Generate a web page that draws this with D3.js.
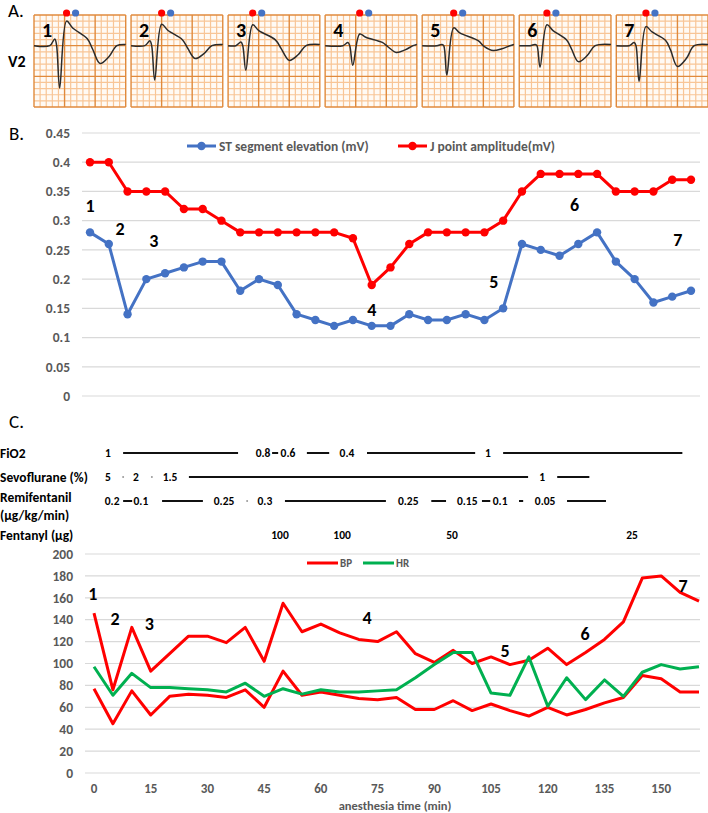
<!DOCTYPE html>
<html>
<head>
<meta charset="utf-8">
<script src="https://cdn.jsdelivr.net/npm/d3@7"></script>
<style>
  body { margin: 0; background: #fff; }
  svg { display: block; font-family: Carlito, Lato, "Noto Sans", sans-serif; }
</style>
</head>
<body>
<div id="chart"></div>
<script>
const stripLabels = ['1', '2', '3', '4', '5', '6', '7'];
const stripJTime = [213, 200, 161, 226, 206, 181, 194];
const stripR = [0.11, 0.08, 0.06, 0.05, 0.02, 0.02, 0.05];
const stripS = [-0.69, -0.56, -0.40, -0.32, -0.48, -0.35, -0.58];
const stripJ = [0.40, 0.35, 0.34, 0.19, 0.29, 0.34, 0.31];
const stripT = [-0.29, -0.21, -0.24, -0.11, -0.08, -0.26, -0.34];
const stripTTime = [219, 219, 239, 239, 258, 206, 206];

// panel B
const stValues = [0.28, 0.26, 0.14, 0.20, 0.21, 0.22, 0.23, 0.23, 0.18, 0.20, 0.19, 0.14, 0.13, 0.12, 0.13, 0.12, 0.12,
  0.14, 0.13, 0.13, 0.14, 0.13, 0.15, 0.26, 0.25, 0.24, 0.26, 0.28, 0.23, 0.20, 0.16, 0.17, 0.18];
const jValues = [0.40, 0.40, 0.35, 0.35, 0.35, 0.32, 0.32, 0.30, 0.28, 0.28, 0.28, 0.28, 0.28, 0.28, 0.27, 0.19, 0.22,
  0.26, 0.28, 0.28, 0.28, 0.28, 0.30, 0.35, 0.38, 0.38, 0.38, 0.38, 0.35, 0.35, 0.35, 0.37, 0.37];
const bTicks = [0, 0.05, 0.1, 0.15, 0.2, 0.25, 0.3, 0.35, 0.4, 0.45];
const bMarks = [['1', 0, 0.325], ['2', 1.6, 0.286], ['3', 3.4, 0.265], ['4', 15, 0.147],
  ['5', 21.5, 0.195], ['6', 25.8, 0.327], ['7', 31.3, 0.267]];

// panel C
const times = d3.range(0, 161, 5);
const bpHigh = [146, 76, 133, 93, 109, 125, 125, 119, 133, 102, 155, 129, 136, 128, 122, 120, 129,
  109, 101, 112, 100, 106, 99, 103, 114, 99, 110, 122, 138, 178, 180, 165, 157];
const bpLow = [77, 45, 75, 53, 70, 72, 71, 69, 76, 60, 93, 71, 74, 71, 68, 67, 69,
  58, 58, 66, 57, 63, 57, 52, 60, 53, 58, 64, 69, 89, 86, 74, 74];
const hrValues = [97, 71, 91, 78, 78, 77, 76, 74, 82, 70, 77, 72, 76, 74, 74, 75, 76,
  87, 99, 110, 110, 73, 71, 106, 61, 87, 67, 85, 70, 92, 99, 95, 97];
const cTicks = [0, 20, 40, 60, 80, 100, 120, 140, 160, 180, 200];
const timeTicks = [0, 15, 30, 45, 60, 75, 90, 105, 120, 135, 150];
const cMarks = [['1', -0.3, 164], ['2', 5.6, 141], ['3', 14.6, 136], ['4', 72.2, 142],
  ['5', 108.7, 112], ['6', 129.9, 127], ['7', 155.8, 171]];

// drug rows, in minutes of anesthesia
const rowNames = ['FiO2', 'Sevoflurane (%)', 'Remifentanil', 'Fentanyl (µg)'];
const fio2Text = [['1', 3.7], ['0.8', 44.7], ['0.6', 51.3], ['0.4', 66.9], ['1', 104.2]];
const fio2Lines = [[7.7, 38.1], [47.1, 48.7], [56.3, 62.2], [72.2, 100.8], [108.2, 155.6]];
const sevoText = [['5', 3.7], ['2', 11.1], ['1.5', 20.1], ['1', 118.5]];
const sevoLines = [[25.1, 114.8], [122.5, 131]];
const sevoDots = [7.7, 15.3];
const remiText = [['0.2', 4.8], ['0.1', 12.4], ['0.25', 34.4], ['0.3', 45.2], ['0.25', 83.1],
  ['0.15', 98.7], ['0.1', 107.4], ['0.05', 119.3]];
const remiLines = [[7.7, 10.1], [18, 28.8], [50.5, 77.2], [89.2, 93.1], [102.6, 104.8], [112.4, 113.5], [125.1, 135.4]];
const remiDots = [40.5];
const fentText = [['100', 49.2], ['100', 65.6], ['50', 94.7], ['25', 142.3]];

const grey = '#595959';
const gridColor = '#d9d9d9';
const blue = '#4472c4';
const red = '#ff0000';
const green = '#00b050';

const svg = d3.select('#chart').append('svg')
  .attr('width', 708)
  .attr('height', 813);

const panelLabel = (text, x, y) => svg.append('text')
  .attr('x', x).attr('y', y)
  .attr('font-size', 19)
  .attr('fill', '#000')
  .text(text);

// ---------- A ----------
panelLabel('A.', 8, 17);
svg.append('text')
  .attr('x', 8).attr('y', 67)
  .attr('font-size', 16).attr('font-weight', 'bold')
  .text('V2');

const stripX = d3.scaleBand()
  .domain(stripLabels)
  .range([34, 708])
  .paddingInner(0.055);
const stripTop = 15;
const stripH = 92;

const ecgPoints = (i) => {
  const J = stripJTime[i];
  const tt = stripTTime[i];
  const j = stripJ[i];
  const t = stripT[i];
  return [
    [0, 0], [J - 110, 0], [J - 77, stripR[i]], [J - 65, 0], [J - 45, stripS[i]], [J, j],
    [J + 40, j * 0.72], [J + 0.62 * tt, j * 0.28], [J + 0.78 * tt, t * 0.2], [J + tt, t],
    [J + tt + 58, t * 0.62], [J + tt + 110, 0], [600, 0.02]
  ];
};

stripLabels.forEach((label, i) => {
  const left = stripX(label);
  const w = stripX.bandwidth();
  const x = d3.scaleLinear().domain([0, 600]).range([left, left + w]);
  const y = d3.scaleLinear().domain([-1.0, 0.5]).range([stripTop + stripH, stripTop]);
  const g = svg.append('g').attr('class', 'strip');

  g.append('rect')
    .attr('x', left).attr('y', stripTop)
    .attr('width', w).attr('height', stripH)
    .attr('fill', '#fffaf4');

  const steps = d3.range(0, 16);
  g.selectAll('.vminor').data(steps.filter(k => k % 5)).join('line')
    .attr('x1', k => x(k * 40)).attr('x2', k => x(k * 40))
    .attr('y1', stripTop).attr('y2', stripTop + stripH)
    .attr('stroke', '#f8c596').attr('stroke-width', 1.2);
  g.selectAll('.hminor').data(steps.filter(k => k % 5)).join('line')
    .attr('y1', k => y(-1 + k * 0.1)).attr('y2', k => y(-1 + k * 0.1))
    .attr('x1', left).attr('x2', left + w)
    .attr('stroke', '#f8c596').attr('stroke-width', 1.2);
  g.selectAll('.vmajor').data(steps.filter(k => k % 5 === 0)).join('line')
    .attr('x1', k => x(k * 40)).attr('x2', k => x(k * 40))
    .attr('y1', stripTop).attr('y2', stripTop + stripH)
    .attr('stroke', '#e08a3c').attr('stroke-width', 1.4);
  g.selectAll('.hmajor').data(steps.filter(k => k % 5 === 0)).join('line')
    .attr('y1', k => y(-1 + k * 0.1)).attr('y2', k => y(-1 + k * 0.1))
    .attr('x1', left).attr('x2', left + w)
    .attr('stroke', '#e08a3c').attr('stroke-width', 1.4);

  g.append('path')
    .datum(ecgPoints(i))
    .attr('fill', 'none')
    .attr('stroke', '#2b2b2b')
    .attr('stroke-width', 1.5)
    .attr('stroke-linejoin', 'round')
    .attr('d', d3.line().x(d => x(d[0])).y(d => y(d[1])).curve(d3.curveCatmullRom.alpha(0.5)));

  g.append('circle')
    .attr('cx', x(stripJTime[i])).attr('cy', 13).attr('r', 3.6).attr('fill', red);
  g.append('circle')
    .attr('cx', x(stripJTime[i]) + 9).attr('cy', 13).attr('r', 3.6).attr('fill', blue);

  g.append('text')
    .attr('x', left + 8).attr('y', stripTop + 22)
    .attr('font-size', 20).attr('font-weight', 'bold')
    .text(label);
});

// ---------- B ----------
panelLabel('B.', 9, 140);
const bx = d3.scaleLinear().domain([0, stValues.length - 1]).range([90, 691]);
const by = d3.scaleLinear().domain([0, 0.45]).range([396, 133]);

svg.append('g').selectAll('line').data(bTicks).join('line')
  .attr('x1', 82).attr('x2', 700)
  .attr('y1', d => by(d)).attr('y2', d => by(d))
  .attr('stroke', gridColor).attr('stroke-width', 1.2);
svg.append('g').selectAll('text').data(bTicks).join('text')
  .attr('x', 70).attr('y', d => by(d)).attr('dy', '0.35em')
  .attr('text-anchor', 'end')
  .attr('font-size', 13.5).attr('font-weight', 'bold').attr('fill', grey)
  .text(d => d);

const bLine = d3.line().x((d, i) => bx(i)).y(d => by(d));
[[stValues, blue], [jValues, red]].forEach(([values, color]) => {
  svg.append('path').datum(values)
    .attr('fill', 'none').attr('stroke', color).attr('stroke-width', 3)
    .attr('stroke-linejoin', 'round')
    .attr('d', bLine);
  svg.append('g').selectAll('circle').data(values).join('circle')
    .attr('cx', (d, i) => bx(i)).attr('cy', d => by(d))
    .attr('r', 4.2).attr('fill', color);
});

const bLegend = [['ST segment elevation (mV)', blue, 187], ['J point amplitude(mV)', red, 398]];
bLegend.forEach(([name, color, x0]) => {
  svg.append('line')
    .attr('x1', x0).attr('x2', x0 + 29).attr('y1', 146).attr('y2', 146)
    .attr('stroke', color).attr('stroke-width', 3);
  svg.append('circle').attr('cx', x0 + 14.5).attr('cy', 146).attr('r', 4.2).attr('fill', color);
  svg.append('text')
    .attr('x', x0 + 32).attr('y', 146).attr('dy', '0.35em')
    .attr('font-size', 13.5).attr('font-weight', 'bold').attr('fill', grey)
    .text(name);
});

svg.append('g').selectAll('text').data(bMarks).join('text')
  .attr('x', d => bx(d[1])).attr('y', d => by(d[2])).attr('dy', '0.35em')
  .attr('text-anchor', 'middle')
  .attr('font-size', 18).attr('font-weight', 'bold')
  .text(d => d[0]);

// ---------- C ----------
panelLabel('C.', 9, 428);
const cx = d3.scaleLinear().domain([0, 160]).range([94, 699]);
const cy = d3.scaleLinear().domain([0, 200]).range([773, 554]);

const rowY = [453, 477, 501, 535];
const rowLabel = svg.append('g')
  .attr('font-size', 13.5).attr('font-weight', 'bold').attr('fill', '#000');
rowNames.forEach((name, i) => {
  const t = rowLabel.append('text')
    .attr('x', 0).attr('y', rowY[i]).attr('dy', '0.35em');
  if (name === 'Remifentanil') {
    t.attr('y', 497).text(name);
    rowLabel.append('text').attr('x', 0).attr('y', 515).attr('dy', '0.35em').text('(µg/kg/min)');
  } else {
    t.text(name);
  }
});

const drugRow = (texts, lines, dots, yy) => {
  const g = svg.append('g');
  g.selectAll('text').data(texts).join('text')
    .attr('x', d => cx(d[1])).attr('y', yy).attr('dy', '0.35em')
    .attr('text-anchor', 'middle')
    .attr('font-size', 11.5).attr('font-weight', 'bold')
    .text(d => d[0]);
  g.selectAll('line').data(lines).join('line')
    .attr('x1', d => cx(d[0])).attr('x2', d => cx(d[1]))
    .attr('y1', yy).attr('y2', yy)
    .attr('stroke', '#111').attr('stroke-width', 2);
  g.selectAll('circle').data(dots).join('circle')
    .attr('cx', d => cx(d)).attr('cy', yy).attr('r', 1)
    .attr('fill', '#999');
};
drugRow(fio2Text, fio2Lines, [], rowY[0]);
drugRow(sevoText, sevoLines, sevoDots, rowY[1]);
drugRow(remiText, remiLines, remiDots, rowY[2]);
drugRow(fentText, [], [], rowY[3]);

svg.append('g').selectAll('line').data(cTicks).join('line')
  .attr('x1', 85).attr('x2', 700)
  .attr('y1', d => cy(d)).attr('y2', d => cy(d))
  .attr('stroke', gridColor).attr('stroke-width', 1.2);
svg.append('g').selectAll('text').data(cTicks).join('text')
  .attr('x', 73).attr('y', d => cy(d)).attr('dy', '0.35em')
  .attr('text-anchor', 'end')
  .attr('font-size', 13.5).attr('font-weight', 'bold').attr('fill', grey)
  .text(d => d);
svg.append('g').selectAll('text').data(timeTicks).join('text')
  .attr('x', d => cx(d)).attr('y', 788).attr('dy', '0.35em')
  .attr('text-anchor', 'middle')
  .attr('font-size', 13).attr('font-weight', 'bold').attr('fill', grey)
  .text(d => d);
svg.append('text')
  .attr('x', 395).attr('y', 810)
  .attr('text-anchor', 'middle')
  .attr('font-size', 12.5).attr('font-weight', 'bold').attr('fill', grey)
  .text('anesthesia time (min)');

const cLine = d3.line().x((d, i) => cx(times[i])).y(d => cy(d));
[[bpHigh, red], [bpLow, red], [hrValues, green]].forEach(([values, color]) => {
  svg.append('path').datum(values)
    .attr('fill', 'none').attr('stroke', color).attr('stroke-width', 3)
    .attr('stroke-linejoin', 'round')
    .attr('d', cLine);
});

const cLegend = [['BP', red, 307], ['HR', green, 363]];
cLegend.forEach(([name, color, x0]) => {
  svg.append('line')
    .attr('x1', x0).attr('x2', x0 + 31).attr('y1', 563).attr('y2', 563)
    .attr('stroke', color).attr('stroke-width', 3);
  svg.append('text')
    .attr('x', x0 + 33).attr('y', 563).attr('dy', '0.35em')
    .attr('font-size', 11).attr('font-weight', 'bold').attr('fill', grey)
    .text(name);
});

svg.append('g').selectAll('text').data(cMarks).join('text')
  .attr('x', d => cx(d[1])).attr('y', d => cy(d[2])).attr('dy', '0.35em')
  .attr('text-anchor', 'middle')
  .attr('font-size', 18).attr('font-weight', 'bold')
  .text(d => d[0]);
</script>
</body>
</html>
